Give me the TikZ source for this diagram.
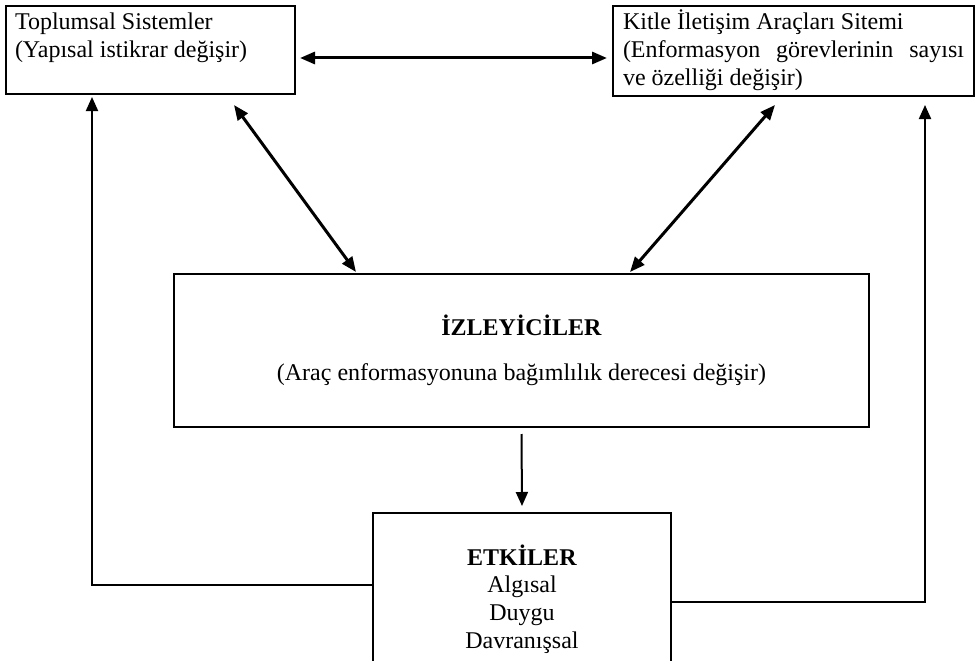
\documentclass[tikz,border=0pt]{standalone}
\usepackage{fontspec}
\setmainfont{Liberation Serif}
\usetikzlibrary{arrows.meta,positioning}

\begin{document}
\begin{tikzpicture}[x=1pt,y=-1pt,
  every node/.style={font=\fontsize{24}{27.6}\selectfont},
  kutu/.style={draw,line width=2pt,anchor=north west,inner sep=0pt},
  cift/.style={{Triangle[length=15pt,width=12pt]}-{Triangle[length=15pt,width=12pt]},line width=3pt},
  ok/.style={-{Triangle[length=14pt,width=12pt]},line width=2pt}]
\useasboundingbox (0,0) rectangle (977,661);
\node[kutu,minimum width=289pt,minimum height=88pt,inner xsep=9pt,text width=271pt,align=flush left,text height=24pt,text depth=64pt] (ts) at (5,5) {Toplumsal Sistemler\\(Yapısal istikrar değişir)};
\node[kutu,minimum width=361pt,minimum height=90pt,inner xsep=10pt,text width=341pt,align=justify,text height=24pt,text depth=66pt] (kia) at (612,5) {Kitle İletişim Araçları Sitemi\newline (Enformasyon görevlerinin sayısı\linebreak ve özelliği değişir)};
\node[kutu,minimum width=695pt,minimum height=153pt,align=center] (iz) at (173,273) {\textbf{İZLEYİCİLER}\\[18pt](Araç enformasyonuna bağımlılık derecesi değişir)};
\node[kutu,minimum width=298pt,minimum height=172pt,align=center] (etk) at (372,512) {\textbf{ETKİLER}\\Algısal\\Duygu\\Davranışsal};

\draw[cift] ([xshift=4pt,yshift=-8pt]ts.east) -- ([xshift=-5pt,yshift=-7pt]kia.west);
\draw[cift] ([xshift=-62pt,yshift=-10pt]ts.south east) -- ([xshift=183pt,yshift=1pt]iz.north west);
\draw[cift] ([xshift=163pt,yshift=-8pt]kia.south west) -- ([xshift=-240pt,yshift=1pt]iz.north east);
\draw[ok] ([yshift=-6pt]iz.south) -- ([yshift=6pt]etk.north);
\draw[ok] ([yshift=14pt]etk.west) -| ([xshift=87pt,yshift=-2pt]ts.south west);
\draw[ok] ([yshift=-3pt]etk.east) -| ([xshift=-50pt,yshift=-8pt]kia.south east);
\end{tikzpicture}
\end{document}
